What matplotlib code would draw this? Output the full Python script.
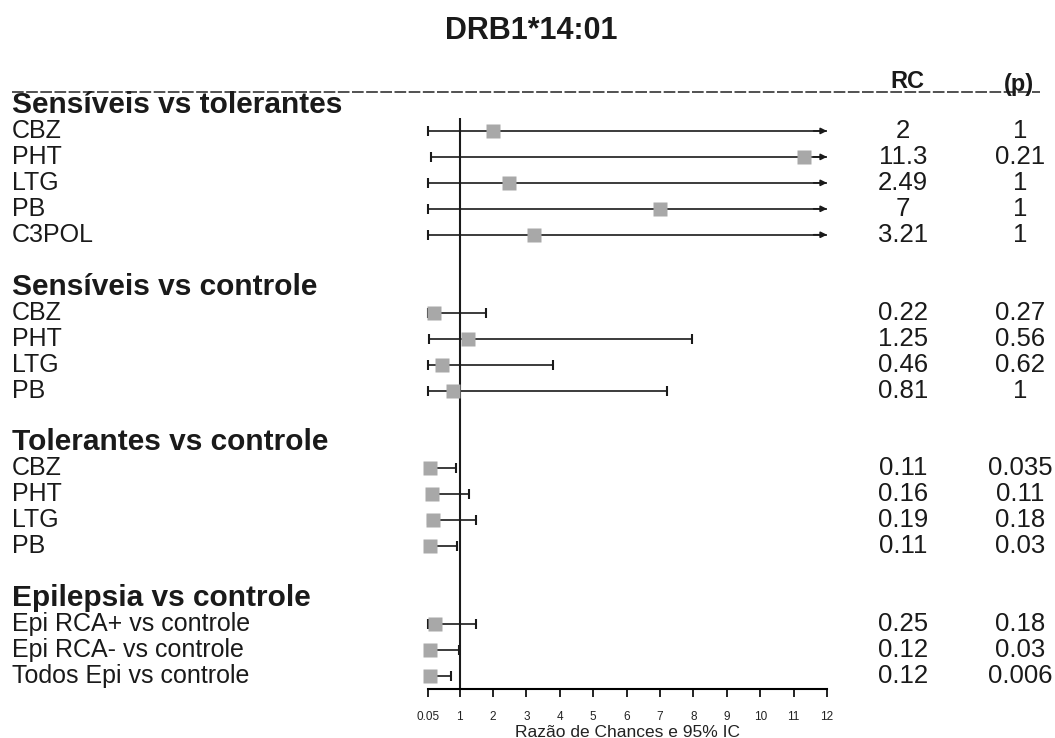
import matplotlib.pyplot as plt
import matplotlib.transforms as mtransforms
from matplotlib.lines import Line2D
import numpy as np

plt.rcParams['font.family'] = ['Liberation Sans', 'DejaVu Sans']

titulo = "DRB1*14:01"
grupos = ["Sensíveis vs tolerantes", "Sensíveis vs controle",
          "Tolerantes vs controle", "Epilepsia vs controle"]
rotulos = [["CBZ", "PHT", "LTG", "PB", "C3POL"],
           ["CBZ", "PHT", "LTG", "PB"],
           ["CBZ", "PHT", "LTG", "PB"],
           ["Epi RCA+ vs controle", "Epi RCA- vs controle", "Todos Epi vs controle"]]
rc = [[2, 11.3, 2.49, 7, 3.21],
      [0.22, 1.25, 0.46, 0.81],
      [0.11, 0.16, 0.19, 0.11],
      [0.25, 0.12, 0.12]]
# limites do IC 95% (inf = seta, passa do eixo)
ic_inf = [[0.05, 0.13, 0.05, 0.05, 0.05],
          [0.05, 0.07, 0.05, 0.05],
          [0.05, 0.05, 0.05, 0.05],
          [0.05, 0.05, 0.05]]
ic_sup = [[np.inf, np.inf, np.inf, np.inf, np.inf],
          [1.8, 7.95, 3.8, 7.2],
          [0.88, 1.27, 1.48, 0.91],
          [1.5, 0.97, 0.73]]
pval = [["1", "0.21", "1", "1", "1"],
        ["0.27", "0.56", "0.62", "1"],
        ["0.035", "0.11", "0.18", "0.03"],
        ["0.18", "0.03", "0.006"]]
xticks = [0.05, 1, 2, 3, 4, 5, 6, 7, 8, 9, 10, 11, 12]

W, H = 1055, 738
fig = plt.figure(figsize=(W / 100, H / 100), dpi=100)
ax = fig.add_axes([428 / W, 1 - 689 / H, (827 - 428) / W, (689 - 95) / H])
ax.set_xlim(0.05, 12)
ax.set_ylim(22.5, -0.385)
for s in ['top', 'left', 'right']:
    ax.spines[s].set_visible(False)
ax.spines['bottom'].set_linewidth(1.5)
ax.set_yticks([])
ax.set_xticks(xticks)
ax.set_xticklabels([f"{t:g}" for t in xticks])
ax.tick_params(axis='x', length=6, width=1.4, labelsize=8.5, pad=10, colors='#222')
ax.set_xlabel("Razão de Chances e 95% IC", fontsize=12.5, labelpad=1, color='#222')

trans = mtransforms.blended_transform_factory(fig.transFigure, ax.transData)
cor = '#1a1a1a'

i = 0
for g in range(len(grupos)):
    ax.text(12 / W, i, grupos[g], transform=trans, fontsize=21.5, fontweight='bold',
            va='center', ha='left', color=cor)
    i += 1
    for k in range(len(rotulos[g])):
        lo, hi, v = ic_inf[g][k], ic_sup[g][k], rc[g][k]
        ax.text(12 / W, i, rotulos[g][k], transform=trans, fontsize=18,
                va='center', ha='left', color=cor)
        ax.text(903 / W, i, f"{v:g}", transform=trans, fontsize=18.5,
                va='center', ha='center', color=cor)
        ax.text(1020 / W, i, pval[g][k], transform=trans, fontsize=18.5,
                va='center', ha='center', color=cor)
        ax.hlines(i, lo, min(hi, 12), color=cor, lw=1.2, clip_on=False)
        ax.plot(lo, i, marker='|', ms=7, mew=1.5, color=cor, clip_on=False)
        if hi > 12:
            ax.annotate('', xy=(12, i), xytext=(11.6, i), annotation_clip=False,
                        arrowprops=dict(arrowstyle='-|>', color=cor, lw=1.2,
                                        mutation_scale=9, shrinkA=0, shrinkB=0))
        else:
            ax.plot(hi, i, marker='|', ms=7, mew=1.5, color=cor, clip_on=False)
        ax.plot(v, i, marker='s', ms=10.5, color='#a8a8a8', mec='none',
                zorder=4, clip_on=False)
        i += 1
    i += 1

ax.vlines(1, 0.5, 22.5, color=cor, lw=1.5, clip_on=False)

fig.text(531 / W, 1 - 31 / H, titulo, fontsize=22, fontweight='bold',
         ha='center', va='center', color=cor)
fig.text(907 / W, 1 - 82 / H, "RC", fontsize=17, fontweight='bold',
         ha='center', va='center', color=cor)
fig.text(1019 / W, 1 - 84 / H, "(p)", fontsize=17, fontweight='bold',
         ha='center', va='center', color=cor)
fig.add_artist(Line2D([12 / W, 1040 / W], [1 - 92 / H, 1 - 92 / H],
                      ls=(0, (7, 1.5)), lw=1.2, color='#333', zorder=0))

fig.savefig("out.png", dpi=100)
